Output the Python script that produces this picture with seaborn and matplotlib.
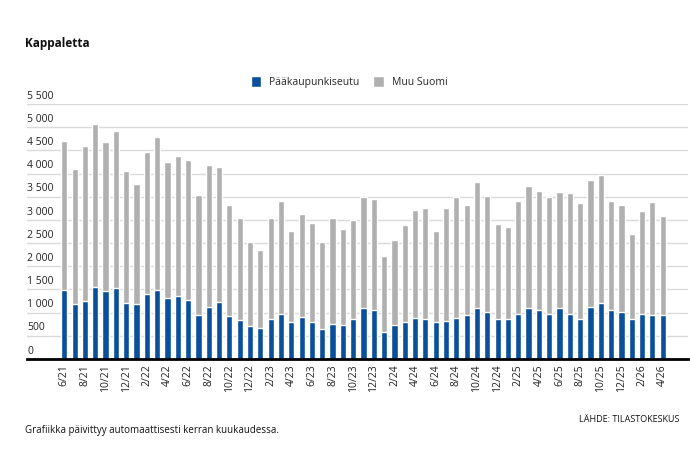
import matplotlib
matplotlib.use("Agg")
import matplotlib.pyplot as plt
from matplotlib import font_manager
import seaborn as sns
import pandas as pd

# Months from 6/21 to 4/26
months = []
for y in range(21, 27):
    for m in range(1, 13):
        if (y == 21 and m < 6) or (y == 26 and m > 4):
            continue
        months.append(f"{m}/{y}")

# Values
paakaupunkiseutu = [1495, 1186, 1258, 1553, 1467, 1531, 1208,
                    1186, 1409, 1495, 1308, 1366, 1273, 942, 1122, 1229, 927, 834, 705,
                    669, 856, 978, 798, 906, 798, 640, 762, 726, 863, 1093, 1057,
                    575, 726, 798, 884, 856, 798, 827, 884, 942, 1093, 1021, 870,
                    863, 978, 1093, 1057, 978, 1093, 978, 870, 1122, 1201, 1057, 1007,
                    863, 963, 942, 942]
yhteensa = [4702, 4091, 4594, 5076, 4688, 4925, 4055,
            3775, 4465, 4795, 4242, 4386, 4292, 3537, 4177, 4141, 3314, 3034, 2516,
            2351, 3041, 3408, 2761, 3127, 2926, 2516, 3041, 2797, 2998, 3494, 3451,
            2222, 2574, 2890, 3221, 3257, 2761, 3250, 3494, 3314, 3818, 3516, 2905,
            2847, 3408, 3724, 3631, 3494, 3595, 3573, 3365, 3854, 3969, 3408, 3314,
            2689, 3185, 3386, 3092]

y_ticks = [0, 500, 1000, 1500, 2000, 2500, 3000, 3500, 4000, 4500, 5000, 5500]

df = pd.DataFrame({"kk": months, "paak": paakaupunkiseutu, "yht": yhteensa})

BLUE = "#0a4f9c"
GREY = "#b0b0b0"

sns.set_theme(style="white")
installed = {f.name for f in font_manager.fontManager.ttflist}
fam = "Liberation Sans Narrow" if "Liberation Sans Narrow" in installed else "Open Sans"
plt.rcParams["font.family"] = [fam, "DejaVu Sans"]
big = fam == "Liberation Sans Narrow"

fig = plt.figure(figsize=(6.9, 4.49), dpi=100)
W, H = 690, 449
ax = fig.add_axes([27 / W, 90 / H, (688 - 27) / W, (345 - 90) / H])

sns.barplot(data=df, x="kk", y="yht", color=GREY, width=0.6, saturation=1,
            order=months, ax=ax, label="Muu Suomi")
sns.barplot(data=df, x="kk", y="paak", color=BLUE, width=0.6, saturation=1,
            order=months, ax=ax, label="Pääkaupunkiseutu")

n = len(months)
step = (662.7 - 64.3) / (n - 1)
ax.set_xlim((27 - 64.3) / step, (688 - 64.3) / step)
ax.set_ylim(0, 5500)

fs = 8.5 if big else 7.5
ax.set_yticks(y_ticks)
ax.set_yticklabels([])
ax.tick_params(axis="y", length=0)
ax.yaxis.grid(True, color="#dadada", linewidth=1)
ax.set_axisbelow(True)
for v in y_ticks:
    ax.text(0, v + 50, f"{v:,}".replace(",", " "), transform=ax.get_yaxis_transform(),
            ha="left", va="bottom", fontsize=fs, color="#222222")

ax.set_xticks(range(0, n, 2))
ax.set_xticklabels(months[::2], rotation=90, fontsize=fs, color="#222222")
ax.tick_params(axis="x", length=0, pad=4)
ax.set_xlabel("")
ax.set_ylabel("")

for s in ["top", "right", "left"]:
    ax.spines[s].set_visible(False)
ax.spines["bottom"].set_color("black")
ax.spines["bottom"].set_linewidth(2)
ax.spines["bottom"].set_zorder(5)

if ax.get_legend() is not None:
    ax.get_legend().remove()
handles, labels = ax.get_legend_handles_labels()
order = [labels.index("Pääkaupunkiseutu"), labels.index("Muu Suomi")]
fig.legend([handles[i] for i in order], [labels[i] for i in order],
           loc="center", bbox_to_anchor=(349 / W, 1 - 82 / H), ncol=2, frameon=False,
           fontsize=fs, handlelength=1.0, handleheight=1.2, columnspacing=1.3,
           handletextpad=0.8)

fig.text(25 / W, 1 - 43 / H, "Kappaletta", ha="left", va="center",
         fontsize=9.5 if big else 8.5, fontweight="bold", color="#111111")
fig.text(25 / W, 1 - 430 / H, "Grafiikka päivittyy automaattisesti kerran kuukaudessa.",
         ha="left", va="center", fontsize=8 if big else 7, color="#111111")
fig.text(679 / W, 1 - 420 / H, "LÄHDE: TILASTOKESKUS", ha="right", va="center",
         fontsize=7.5 if big else 6.5, color="#111111")

fig.savefig("out.png", dpi=100, facecolor="white")
